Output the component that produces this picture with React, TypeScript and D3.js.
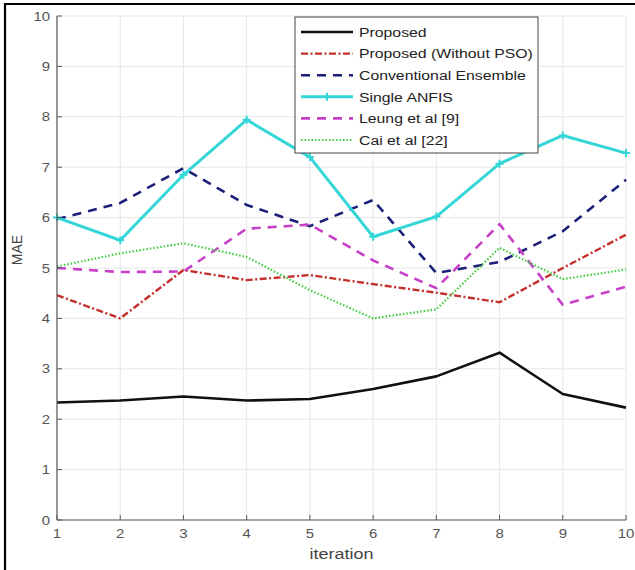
import React from "react";
import * as d3 from "d3";

const iterations = [1, 2, 3, 4, 5, 6, 7, 8, 9, 10];
const proposed = [2.33, 2.37, 2.45, 2.37, 2.4, 2.6, 2.85, 3.32, 2.5, 2.23];
const proposedNoPSO = [4.46, 4.0, 4.96, 4.76, 4.86, 4.68, 4.51, 4.32, 5.0, 5.66];
const conventional = [5.97, 6.29, 6.98, 6.25, 5.83, 6.35, 4.9, 5.12, 5.73, 6.75];
const singleAnfis = [6.0, 5.55, 6.85, 7.94, 7.2, 5.62, 6.02, 7.07, 7.63, 7.28];
const leung = [5.0, 4.92, 4.93, 5.78, 5.86, 5.15, 4.6, 5.87, 4.27, 4.63];
const cai = [5.03, 5.29, 5.49, 5.22, 4.56, 4.0, 4.18, 5.4, 4.78, 4.97];
const yTicks = [0, 1, 2, 3, 4, 5, 6, 7, 8, 9, 10];

const series = [
  { name: "Proposed", values: proposed, color: "#111111", width: 2.6, dash: "", marker: false },
  { name: "Proposed (Without PSO)", values: proposedNoPSO, color: "#c4302b", width: 2.4, dash: "7,2.5,2,2.5", marker: false },
  { name: "Conventional Ensemble", values: conventional, color: "#1c1f78", width: 2.6, dash: "9,7", marker: false },
  { name: "Single ANFIS", values: singleAnfis, color: "#35d6d8", width: 3, dash: "", marker: true },
  { name: "Leung et al [9]", values: leung, color: "#c83fc8", width: 2.6, dash: "9,7", marker: false },
  { name: "Cai et al [22]", values: cai, color: "#3fcc3f", width: 2.2, dash: "1.5,2", marker: false },
];

export default function App() {
  const W = 635, H = 570;
  const x = d3.scaleLinear().domain([1, 10]).range([57, 626]);
  const y = d3.scaleLinear().domain([0, 10]).range([520, 16]);
  const line = d3.line<number>().x((_, i) => x(iterations[i])).y((v) => y(v));
  const font = "'Liberation Sans', Arial, sans-serif";
  const axisColor = "#5a5a5a";
  const lg = { x: 295, y: 17, w: 243, h: 136, row: 21.6 };
  const sx = 1.15;
  return (
    <svg width={W} height={H} style={{ position: "absolute", left: 0, top: 0, background: "#fff" }} fontFamily={font}>
      <rect x={0} y={0} width={W} height={H} fill="#fff" />
      {/* grid */}
      {iterations.map((t) => (
        <line key={"gx" + t} x1={x(t)} x2={x(t)} y1={y(10)} y2={y(0)} stroke="#e6e6e6" strokeWidth={1} />
      ))}
      {yTicks.map((t) => (
        <line key={"gy" + t} x1={x(1)} x2={x(10)} y1={y(t)} y2={y(t)} stroke="#e6e6e6" strokeWidth={1} />
      ))}
      {/* series */}
      {series.map((s) => (
        <path key={s.name} d={line(s.values) || ""} fill="none" stroke={s.color} strokeWidth={s.width}
          strokeDasharray={s.dash || undefined} strokeLinejoin="round" />
      ))}
      {series.filter((s) => s.marker).map((s) =>
        s.values.map((v, i) => (
          <path key={s.name + i} d={`M${x(iterations[i]) - 4},${y(v)}h8M${x(iterations[i])},${y(v) - 4}v8`}
            stroke={s.color} strokeWidth={2} />
        ))
      )}
      {/* axes */}
      <line x1={x(1)} x2={x(1)} y1={y(10)} y2={y(0)} stroke={axisColor} strokeWidth={1.2} />
      <line x1={x(1)} x2={x(10)} y1={y(0)} y2={y(0)} stroke={axisColor} strokeWidth={1.2} />
      {yTicks.map((t) => (
        <g key={"ty" + t}>
          <line x1={x(1)} x2={x(1) + 5} y1={y(t)} y2={y(t)} stroke={axisColor} />
          <text transform={`translate(${x(1) - 7},${y(t)}) scale(${sx},1)`} dy="0.35em" textAnchor="end" fontSize={13} fill="#555">{t}</text>
        </g>
      ))}
      {iterations.map((t) => (
        <g key={"tx" + t}>
          <line x1={x(t)} x2={x(t)} y1={y(0)} y2={y(0) - 5} stroke={axisColor} />
          <text transform={`translate(${x(t)},${y(0) + 18}) scale(${sx},1)`} textAnchor="middle" fontSize={13} fill="#555">{t}</text>
        </g>
      ))}
      <text transform={`translate(${(x(1) + x(10)) / 2},559) scale(1.2,1)`} textAnchor="middle" fontSize={15} fill="#444">iteration</text>
      <text transform={`translate(22,250) rotate(-90)`} textAnchor="middle" fontSize={14} fill="#444">MAE</text>
      {/* legend */}
      <rect x={lg.x} y={lg.y} width={lg.w} height={lg.h} fill="#fff" stroke="#444" strokeWidth={1} />
      {series.map((s, i) => {
        const cy = lg.y + 15 + i * lg.row;
        return (
          <g key={"lg" + s.name}>
            <line x1={lg.x + 6} x2={lg.x + 58} y1={cy} y2={cy} stroke={s.color} strokeWidth={s.width}
              strokeDasharray={s.dash || undefined} />
            {s.marker && (
              <path d={`M${lg.x + 28},${cy}h8M${lg.x + 32},${cy - 4}v8`} stroke={s.color} strokeWidth={2} />
            )}
            <text transform={`translate(${lg.x + 64},${cy}) scale(1.17,1)`} dy="0.35em" fontSize={13.5} fill="#222">{s.name}</text>
          </g>
        );
      })}
      {/* outer frame */}
      <path d={`M5,${H}V4H${W}`} fill="none" stroke="#000" strokeWidth={2.2} />
    </svg>
  );
}
